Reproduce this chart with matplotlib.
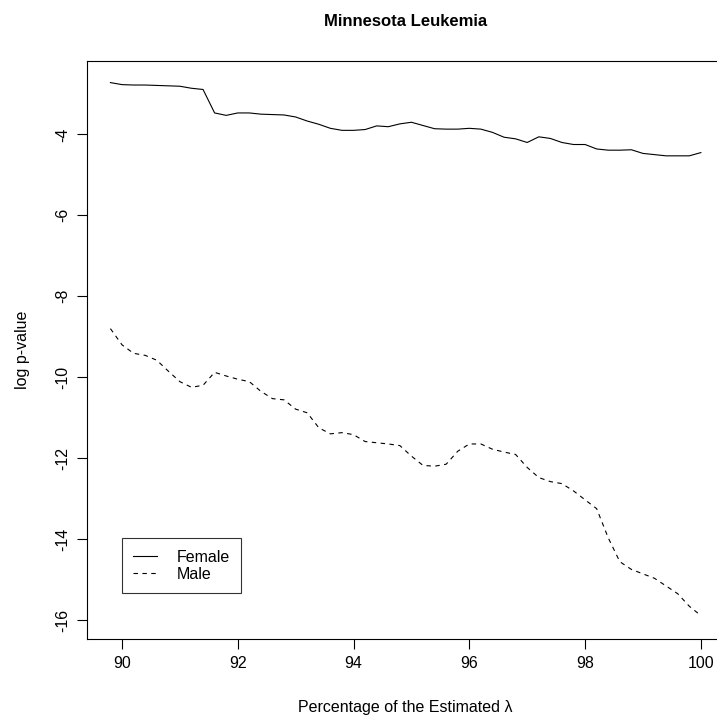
import matplotlib
matplotlib.use("Agg")
import matplotlib.pyplot as plt
import numpy as np

plt.rcParams['font.family'] = ['Liberation Sans', 'DejaVu Sans']

pct = [89.8, 90.0, 90.2, 90.4, 90.6, 90.8, 91.0, 91.2, 91.4, 91.6,
       91.8, 92.0, 92.2, 92.4, 92.6, 92.8, 93.0, 93.2, 93.4, 93.6,
       93.8, 94.0, 94.2, 94.4, 94.6, 94.8, 95.0, 95.2, 95.4, 95.6,
       95.8, 96.0, 96.2, 96.4, 96.6, 96.8, 97.0, 97.2, 97.4, 97.6,
       97.8, 98.0, 98.2, 98.4, 98.6, 98.8, 99.0, 99.2, 99.4, 99.6,
       99.8, 100.0]

female = [-2.72, -2.77, -2.78, -2.78, -2.79, -2.80, -2.81, -2.86, -2.89, -3.47,
          -3.53, -3.47, -3.47, -3.50, -3.51, -3.52, -3.57, -3.67, -3.75, -3.85,
          -3.90, -3.90, -3.88, -3.79, -3.81, -3.74, -3.70, -3.78, -3.86, -3.87,
          -3.87, -3.85, -3.87, -3.95, -4.07, -4.11, -4.20, -4.06, -4.10, -4.20,
          -4.25, -4.25, -4.36, -4.39, -4.39, -4.38, -4.47, -4.50, -4.53, -4.53,
          -4.53, -4.45]

male = [-8.80, -9.20, -9.41, -9.46, -9.58, -9.85, -10.11, -10.25, -10.20, -9.88,
        -9.97, -10.05, -10.11, -10.35, -10.53, -10.56, -10.79, -10.88, -11.25, -11.40,
        -11.37, -11.42, -11.59, -11.62, -11.65, -11.69, -11.95, -12.18, -12.20, -12.15,
        -11.83, -11.65, -11.65, -11.78, -11.85, -11.91, -12.23, -12.48, -12.58, -12.63,
        -12.81, -13.03, -13.25, -13.97, -14.56, -14.75, -14.86, -14.97, -15.16, -15.35,
        -15.66, -15.89]

xticks = [90, 92, 94, 96, 98, 100]
yticks = [-16, -14, -12, -10, -8, -6, -4]

fig = plt.figure(figsize=(7.17, 7.18), dpi=100)
ax = fig.add_axes([0.1209, 0.1100, 0.8897, 0.8054])

ax.plot(pct, female, color='black', lw=0.8, label='Female')
ax.plot(pct, male, color='black', lw=0.8, linestyle=(0, (4, 4)), label='Male')

ax.set_xlim(89.39, 100.41)
ax.set_ylim(-16.47, -2.18)
ax.set_xticks(xticks)
ax.set_xticklabels([str(t) for t in xticks])
ax.set_yticks(yticks)
ax.set_yticklabels([str(t) for t in yticks], rotation=90, va='center')

for s in ax.spines.values():
    s.set_linewidth(0.8)
    s.set_color('black')

ax.tick_params(direction='out', length=7, width=0.8, labelsize=11.5, pad=5)

ax.set_xlabel('Percentage of the Estimated λ', fontsize=11.5, labelpad=21)
ax.set_ylabel('log p-value', fontsize=11.5, labelpad=18)
ax.set_title('Minnesota Leukemia', fontsize=12, fontweight='bold', pad=25)

leg = ax.legend(loc='upper left', bbox_to_anchor=(0.0558, 0.1741), borderaxespad=0,
                frameon=True, fancybox=False, edgecolor='black', fontsize=11.5,
                handlelength=1.5, handletextpad=1.2, labelspacing=0.15, borderpad=0.7)
leg.get_frame().set_linewidth(0.8)

fig.savefig('out.png', dpi=100)
